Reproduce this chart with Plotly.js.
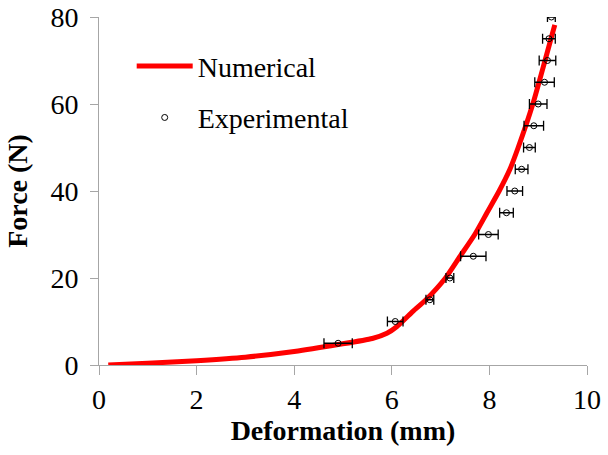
<!DOCTYPE html>
<html>
<head>
<meta charset="utf-8">
<script src="https://cdn.plot.ly/plotly-3.0.1.min.js"></script>
<style>html,body{margin:0;padding:0;background:#fff;}#chart{width:608px;height:455px;}</style>
</head>
<body>
<div id="chart"></div>
<script>
// Numerical model curve
const numX = [0.19, 1.0, 2.0, 3.0, 4.0, 4.9, 5.6, 5.9, 6.1, 6.4, 6.7, 7.1, 7.4, 7.7, 7.95, 8.2, 8.42, 8.59, 8.89, 9.14, 9.34];
const numF = [0, 0.4, 1.0, 1.8, 3.1, 4.7, 6.1, 7.3, 8.8, 12, 15, 20, 25, 30, 35, 40, 45, 50, 60, 70, 78.2];
// Experimental points with horizontal error
const expX = [4.90, 6.07, 6.78, 7.19, 7.67, 7.98, 8.35, 8.52, 8.66, 8.82, 8.91, 9.00, 9.13, 9.19, 9.22, 9.27];
const expF = [5, 10, 15, 20, 25, 30, 35, 40, 45, 50, 55, 60, 65, 70, 75, 80];
const expErr = [0.29, 0.16, 0.08, 0.08, 0.26, 0.20, 0.14, 0.16, 0.13, 0.12, 0.20, 0.18, 0.20, 0.17, 0.13, 0.08];
const xTicks = [0, 2, 4, 6, 8, 10];
const yTicks = [0, 20, 40, 60, 80];

const font = 'Liberation Serif, Times New Roman, serif';
const axisCol = '#A6A6A6';

const traces = [
  {x: numX, y: numF, mode: 'lines', name: 'Numerical', legendgroup: 'a',
   line: {color: '#FF0000', width: 5, shape: 'spline', smoothing: 0.6}},
  {x: expX, y: expF, mode: 'markers', name: 'Experimental', legendgroup: 'b',
   marker: {symbol: 'circle-open', size: 6, color: '#000', line: {width: 1, color: '#000'}},
   error_x: {type: 'data', array: expErr, visible: true, color: '#000', thickness: 1.3, width: 5}}
];

const layout = {
  width: 608, height: 455,
  margin: {l: 99, r: 21, t: 17, b: 90},
  paper_bgcolor: '#fff', plot_bgcolor: '#fff',
  font: {family: font, color: '#000', size: 28},
  showlegend: true,
  legend: {x: 0.067, y: 0.93, xanchor: 'left', yanchor: 'top', bgcolor: 'rgba(0,0,0,0)',
           font: {family: font, size: 28, color: '#000'}, itemwidth: 56,
           traceorder: 'grouped', tracegroupgap: 12},
  xaxis: {range: [0, 10], tickvals: xTicks, ticktext: xTicks.map(String), showgrid: false, zeroline: false,
          showline: true, linecolor: axisCol, linewidth: 1, ticks: 'outside', ticklen: 9, tickcolor: axisCol,
          tickfont: {family: font, size: 28}, ticklabelstandoff: 0,
          title: {text: '<b>Deformation (mm)</b>', font: {family: font, size: 28}, standoff: 0}},
  yaxis: {range: [0, 80], tickvals: yTicks, ticktext: yTicks.map(String), showgrid: false, zeroline: false,
          showline: true, linecolor: axisCol, linewidth: 1, ticks: 'outside', ticklen: 8, tickcolor: axisCol,
          tickfont: {family: font, size: 28}, ticklabelstandoff: 6,
          title: {text: '<b>Force (N)</b>', font: {family: font, size: 28}, standoff: 14}}
};

Plotly.newPlot('chart', traces, layout, {displayModeBar: false, staticPlot: true});
</script>
</body>
</html>
